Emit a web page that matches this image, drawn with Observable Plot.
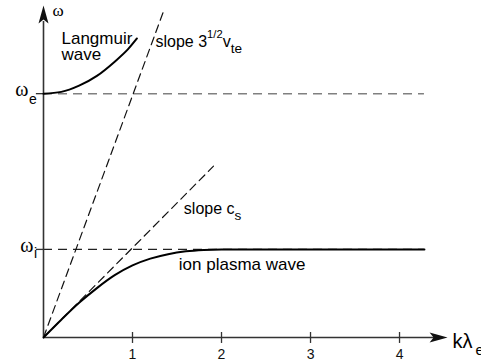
<!DOCTYPE html>
<html><head><meta charset="utf-8">
<script src="https://cdn.jsdelivr.net/npm/d3@7"></script>
<script src="https://cdn.jsdelivr.net/npm/@observablehq/plot@0.6"></script>
<style>html,body{margin:0;padding:0;background:#fff;} svg{display:block}</style>
</head><body><div id="chart"></div>
<script>
// ---- data ----
const xTicks = [1, 2, 3, 4];
const omegaE = 2.74;   // electron plasma frequency level
const omegaI = 0.99;   // ion plasma frequency level
const dashEndK = 4.28; // horizontal dashed lines end
const langmuirK = [0, 0.2, 0.4, 0.6, 0.8, 0.95, 1.05];
const langmuirW = [2.74, 2.76, 2.83, 2.94, 3.10, 3.24, 3.36];
const ionK = [0, 0.2, 0.4, 0.6, 0.8, 1.0, 1.2, 1.4, 1.6, 1.8, 2.0, 2.5, 3.0, 3.5, 4.28];
const ionW = [0, 0.2, 0.39, 0.555, 0.70, 0.81, 0.886, 0.936, 0.968, 0.984, 0.99, 0.99, 0.99, 0.99, 0.99];
const vteLineK = [0, 1.35];
const vteLineW = [0, 3.67];
const csLineK = [0, 1.91];
const csLineW = [0, 1.925];

const langmuir = langmuirK.map((k, i) => ({k, w: langmuirW[i]}));
const ion = ionK.map((k, i) => ({k, w: ionW[i]}));
const vteLine = vteLineK.map((k, i) => ({k, w: vteLineW[i]}));
const csLine = csLineK.map((k, i) => ({k, w: csLineW[i]}));

const SANS = "Liberation Sans, Arial, Helvetica, sans-serif";
const SERIF = "Liberation Serif, Times New Roman, serif";
const AX = "#333";

const arrowHead = {
  draw(ctx) {
    ctx.moveTo(0, 0); ctx.lineTo(5, 18); ctx.lineTo(0, 14); ctx.lineTo(-5, 18); ctx.closePath();
  }
};

const chart = Plot.plot({
  width: 481, height: 364,
  marginLeft: 43, marginRight: 0, marginTop: 0, marginBottom: 27,
  x: {domain: [0, 4.921], axis: null},
  y: {domain: [0, 3.787], axis: null},
  style: {fontFamily: SANS, background: "white", overflow: "visible"},
  marks: [
    // dashed reference lines
    Plot.ruleY([omegaE], {x1: 0, x2: dashEndK, stroke: "#808080", strokeWidth: 1.5, strokeDasharray: "9,6"}),
    Plot.ruleY([omegaI], {x1: 0, x2: dashEndK, stroke: "#222", strokeWidth: 1.2, strokeDasharray: "9,6"}),
    Plot.line(vteLine, {x: "k", y: "w", stroke: "#111", strokeWidth: 1.2, strokeDasharray: "8,5"}),
    Plot.line(csLine, {x: "k", y: "w", stroke: "#111", strokeWidth: 1.2, strokeDasharray: "8,5"}),
    // axes
    Plot.ruleX([0], {y1: 0, y2: 3.55, stroke: AX, strokeWidth: 1.6}),
    Plot.ruleY([0], {x1: 0, x2: 4.40, stroke: AX, strokeWidth: 1.6}),
    Plot.ruleX(xTicks, {y1: -0.067, y2: 0.056, stroke: AX, strokeWidth: 1.3}),
    Plot.ruleY([omegaE, omegaI], {x1: -0.08, x2: 0, stroke: AX, strokeWidth: 1.3}),
    Plot.dot([0], {x: 0, y: 3.73, symbol: arrowHead, fill: "#111", stroke: "none"}),
    Plot.dot([0], {x: 4.54, y: 0, symbol: arrowHead, fill: "#111", stroke: "none", rotate: 90}),
    Plot.text(xTicks, {x: d => d, y: 0, dy: 21, text: d => String(d), lineAnchor: "bottom", fontSize: 14, fill: "#111"}),
    // curves
    Plot.line(langmuir, {x: "k", y: "w", stroke: "#000", strokeWidth: 2, curve: "monotone-x"}),
    Plot.line(ion, {x: "k", y: "w", stroke: "#000", strokeWidth: 2, curve: "monotone-x"}),
    // axis labels
    Plot.text(["ω"], {x: 0, y: 3.787, dx: 9, dy: 15, textAnchor: "start", lineAnchor: "bottom", fontSize: 17, fontFamily: SERIF, fill: "#000"}),
    Plot.text(["ω"], {x: 0, y: omegaE, dx: -15, dy: 2, textAnchor: "end", lineAnchor: "bottom", fontSize: 20, fontFamily: SERIF, fill: "#000"}),
    Plot.text(["e"], {x: 0, y: omegaE, dx: -14.5, dy: 10, textAnchor: "start", lineAnchor: "bottom", fontSize: 14, fill: "#000"}),
    Plot.text(["ω"], {x: 0, y: omegaI, dx: -10, dy: 3, textAnchor: "end", lineAnchor: "bottom", fontSize: 20, fontFamily: SERIF, fill: "#000"}),
    Plot.text(["i"], {x: 0, y: omegaI, dx: -9.5, dy: 9, textAnchor: "start", lineAnchor: "bottom", fontSize: 14, fill: "#000"}),
    Plot.text(["kλ"], {x: 4.54, y: 0, dx: 5, dy: 10, textAnchor: "start", lineAnchor: "bottom", fontSize: 20, fill: "#000"}),
    Plot.text(["e"], {x: 4.54, y: 0, dx: 28, dy: 17, textAnchor: "start", lineAnchor: "bottom", fontSize: 15, fill: "#000"}),
    // annotations
    Plot.text(["Langmuir"], {x: 0.202, y: 3.12, dy: -16, textAnchor: "start", lineAnchor: "bottom", fontSize: 17, fill: "#000"}),
    Plot.text(["wave"], {x: 0.202, y: 3.12, textAnchor: "start", lineAnchor: "bottom", fontSize: 17, fill: "#000"}),
    Plot.text(["slope 3^{1/2}v_{te}"], {x: 1.258, y: 3.26, textAnchor: "start", lineAnchor: "bottom", fontSize: 16, fill: "#000"}),
    Plot.text(["slope c_{s}"], {x: 1.577, y: 1.39, textAnchor: "start", lineAnchor: "bottom", fontSize: 17, fill: "#000"}),
    Plot.text(["ion plasma wave"], {x: 1.52, y: 0.764, textAnchor: "start", lineAnchor: "bottom", fontSize: 17, fill: "#000"})
  ]
});

// turn ^{..} / _{..} markup into real super/subscript tspans
chart.querySelectorAll("text").forEach(t => {
  const s = t.textContent;
  if (!/[\^_]\{/.test(s)) return;
  const fs = parseFloat(t.getAttribute("font-size")) || 16;
  const re = /([\^_])\{([^}]*)\}|([^\^_]+)/g;
  const parts = [];
  let m;
  while ((m = re.exec(s))) parts.push(m[3] !== undefined ? {t: m[3], k: "n"} : {t: m[2], k: m[1] === "^" ? "sup" : "sub"});
  while (t.firstChild) t.removeChild(t.firstChild);
  let off = 0;
  const ns = "http://www.w3.org/2000/svg";
  for (const p of parts) {
    const target = p.k === "sup" ? -0.6 * fs : p.k === "sub" ? 0.38 * fs : 0;
    const ts = document.createElementNS(ns, "tspan");
    ts.setAttribute("dy", String(target - off));
    ts.setAttribute("font-size", String(p.k === "n" ? fs : (p.k === "sup" ? 0.7 : 0.85) * fs));
    ts.textContent = p.t;
    t.appendChild(ts);
    off = target;
  }
});

document.getElementById("chart").appendChild(chart);
</script>
</body></html>
